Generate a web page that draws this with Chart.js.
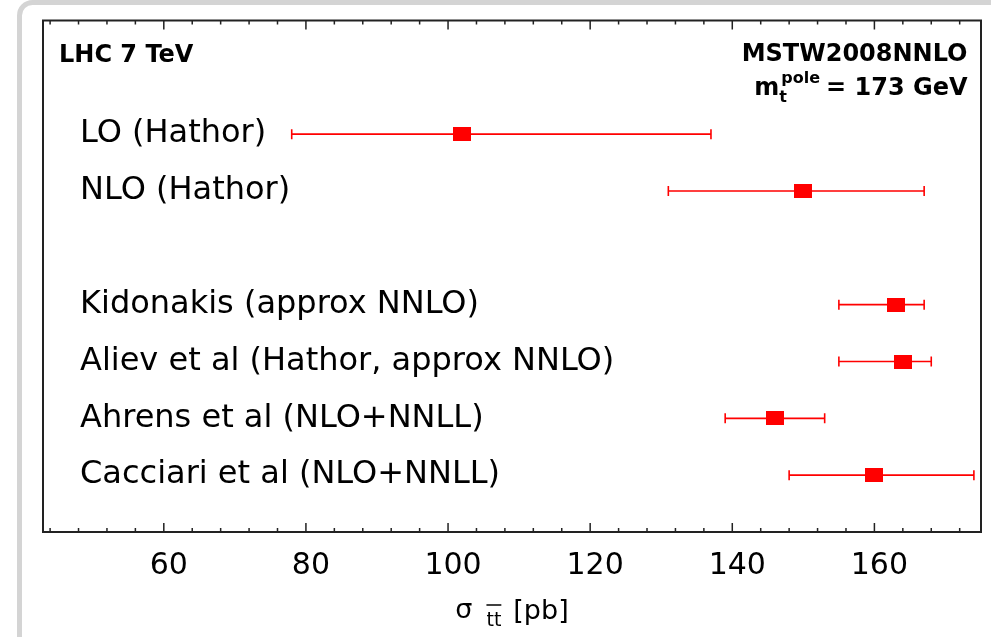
<!DOCTYPE html>
<html>
<head>
<meta charset="utf-8">
<script src="https://cdn.jsdelivr.net/npm/chart.js@4"></script>
<style>
  html, body { margin: 0; padding: 0; background: #fff; }
  canvas { display: block; }
</style>
</head>
<body>
<canvas id="chart" width="991" height="637"></canvas>
<script>
// predictions for the ttbar cross section at 7 TeV (pb)
var labels = [
  "LO (Hathor)",
  "NLO (Hathor)",
  "Kidonakis (approx NNLO)",
  "Aliev et al (Hathor, approx NNLO)",
  "Ahrens et al (NLO+NNLL)",
  "Cacciari et al (NLO+NNLL)"
];
var rows = [0, 1, 3, 4, 5, 6];
var central = [102, 150, 163, 164, 146, 160];
var lower = [78, 131, 155, 155, 139, 148];
var upper = [137, 167, 167, 168, 153, 174];
var xTicks = [60, 80, 100, 120, 140, 160];

var font = "DejaVu Sans";

// red marker, a bit wider than tall like the original
var marker = document.createElement("canvas");
marker.width = 18;
marker.height = 14;
var mctx = marker.getContext("2d");
mctx.fillStyle = "#ff0000";
mctx.fillRect(0, 0, 18, 14);

var points = [];
central.forEach(function (c, i) {
  points.push({ x: c, y: rows[i] });
});

var decor = {
  id: "decor",
  beforeDraw: function (chart) {
    var ctx = chart.ctx;
    ctx.save();
    ctx.fillStyle = "#fff";
    ctx.fillRect(0, 0, chart.width, chart.height);
    // grey rounded frame of the page
    ctx.strokeStyle = "#d4d4d4";
    ctx.lineWidth = 5;
    ctx.beginPath();
    ctx.roundRect(19.5, 2.5, 1100, 800, 13);
    ctx.stroke();
    ctx.restore();
  },
  beforeDatasetsDraw: function (chart) {
    var ctx = chart.ctx;
    var xs = chart.scales.x;
    var ys = chart.scales.y;
    ctx.save();
    ctx.strokeStyle = "#ff0000";
    ctx.lineWidth = 1.6;
    rows.forEach(function (r, i) {
      var y = ys.getPixelForValue(r);
      var x1 = xs.getPixelForValue(lower[i]);
      var x2 = xs.getPixelForValue(upper[i]);
      ctx.beginPath();
      ctx.moveTo(x1, y);
      ctx.lineTo(x2, y);
      ctx.moveTo(x1, y - 5);
      ctx.lineTo(x1, y + 5);
      ctx.moveTo(x2, y - 5);
      ctx.lineTo(x2, y + 5);
      ctx.stroke();
    });
    ctx.restore();
  },
  afterDraw: function (chart) {
    var ctx = chart.ctx;
    var a = chart.chartArea;
    var xs = chart.scales.x;
    ctx.save();

    // frame
    ctx.strokeStyle = "#222";
    ctx.lineWidth = 2;
    ctx.strokeRect(a.left, a.top, a.right - a.left, a.bottom - a.top);

    // inward tick marks top and bottom
    ctx.lineWidth = 1.5;
    ctx.beginPath();
    for (var v = 44; v <= 172; v += 4) {
      var px = xs.getPixelForValue(v);
      var len = v % 20 === 0 ? 9 : 4;
      ctx.moveTo(px, a.bottom);
      ctx.lineTo(px, a.bottom - len);
      ctx.moveTo(px, a.top);
      ctx.lineTo(px, a.top + len);
    }
    ctx.stroke();

    // annotations
    ctx.fillStyle = "#000";
    ctx.textBaseline = "alphabetic";
    ctx.font = "bold 24px '" + font + "'";
    ctx.textAlign = "left";
    ctx.fillText("LHC 7 TeV", a.left + 16, a.top + 41);
    ctx.textAlign = "right";
    var xr = a.right - 13.5;
    ctx.fillText("MSTW2008NNLO", xr, a.top + 40.5);
    var rest = "= 173 GeV";
    ctx.fillText(rest, xr, a.top + 74.5);
    var wRest = ctx.measureText(rest).width;
    ctx.font = "bold 16px '" + font + "'";
    var xp = xr - wRest - 6;
    ctx.fillText("pole", xp, a.top + 62);
    var pStart = xp - ctx.measureText("pole").width;
    ctx.textAlign = "left";
    ctx.fillText("t", pStart - 2, a.top + 81);
    ctx.textAlign = "right";
    ctx.font = "bold 24px '" + font + "'";
    ctx.fillText("m", pStart - 2, a.top + 74.5);

    // axis title: sigma_ttbar [pb]
    ctx.textAlign = "left";
    var big = "27px '" + font + "'";
    var small = "19px '" + font + "'";
    ctx.font = big;
    var wS = ctx.measureText("\u03c3").width;
    var wP = ctx.measureText("[pb]").width;
    ctx.font = small;
    var wT = ctx.measureText("tt").width;
    var total = wS + 14 + wT + 12 + wP;
    var x0 = (a.left + a.right) / 2 - total / 2;
    ctx.font = big;
    ctx.fillText("\u03c3", x0, a.bottom + 86);
    ctx.font = small;
    var xt = x0 + wS + 14;
    ctx.fillText("tt", xt, a.bottom + 94);
    ctx.lineWidth = 1.5;
    ctx.strokeStyle = "#000";
    ctx.beginPath();
    ctx.moveTo(xt, a.bottom + 73);
    ctx.lineTo(xt + wT, a.bottom + 73);
    ctx.stroke();
    ctx.font = big;
    ctx.fillText("[pb]", xt + wT + 12, a.bottom + 87);

    ctx.restore();
  }
};

var config = {
  type: "scatter",
  data: {
    datasets: [
      {
        data: points,
        pointStyle: marker,
        pointRadius: 9,
        pointHoverRadius: 9,
        backgroundColor: "#ff0000",
        borderColor: "#ff0000",
      },
    ],
  },
  options: {
    responsive: false,
    animation: false,
    devicePixelRatio: 1,
    layout: {
      padding: { left: 43, right: 8, top: 20.5, bottom: 37 },
    },
    plugins: {
      legend: { display: false },
      tooltip: { enabled: false },
    },
    scales: {
      x: {
        type: "linear",
        position: "bottom",
        min: 43,
        max: 175,
        grid: { display: false, drawTicks: false },
        border: { display: false },
        afterBuildTicks: function (axis) {
          axis.ticks = xTicks.map(function (v) {
            return { value: v };
          });
        },
        afterFit: function (axis) {
          axis.paddingLeft = 0;
          axis.paddingRight = 0;
        },
        ticks: {
          padding: 16,
          labelOffset: 5,
          color: "#000",
          font: { family: font, size: 30 },
        },
      },
      y: {
        type: "linear",
        min: -2,
        max: 7,
        reverse: true,
        grid: { display: false, drawTicks: false },
        border: { display: false },
        afterBuildTicks: function (axis) {
          axis.ticks = rows.map(function (r) {
            return { value: r };
          });
        },
        // labels sit inside the frame, so the axis takes no room
        afterFit: function (axis) {
          axis.width = 0;
          axis.paddingTop = 0;
          axis.paddingBottom = 0;
        },
        ticks: {
          mirror: true,
          padding: 37,
          color: "#000",
          font: { family: font, size: 32 },
          callback: function (value, index) {
            return labels[index];
          },
        },
      },
    },
  },
  plugins: [decor],
};

var myChart = new Chart(document.getElementById("chart"), config);
</script>
</body>
</html>
